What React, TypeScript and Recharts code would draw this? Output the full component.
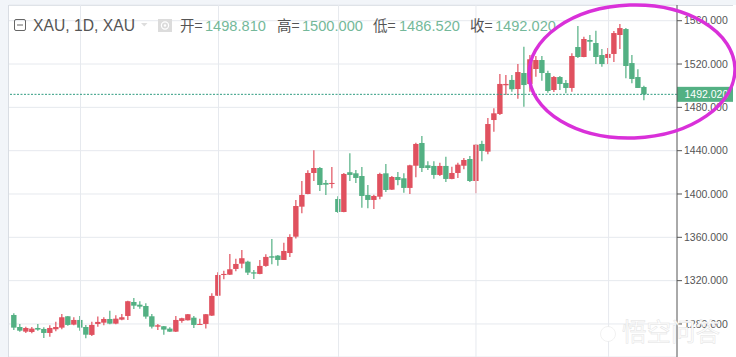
import { Bar, CartesianGrid, ComposedChart, ReferenceLine, XAxis, YAxis } from "recharts";

const opens = [
  1288.3, 1277.2, 1272.9, 1272.6, 1276.3, 1275.4, 1271.7, 1275.1, 1276.6, 1287.1,
  1279.4, 1283.7, 1277.2, 1269.9, 1280, 1281.2, 1284.6, 1280.3, 1284, 1287.4,
  1300.3, 1297.8, 1296.6, 1287.1, 1277.5, 1277.9, 1275.7, 1272.9, 1282.8, 1283.4,
  1285.8, 1279.4, 1280, 1287.7, 1306.1, 1325.2, 1325.5, 1330.8, 1335.7, 1337.5,
  1327.7, 1326.2, 1333.6, 1342.5, 1343.1, 1339.1, 1345.5, 1360.6, 1388.3, 1400,
  1419.4, 1424, 1410.2, 1409.5, 1395.4, 1383.4, 1420.1, 1419.1, 1416.6, 1399.1,
  1394.5, 1397.5, 1419.1, 1404, 1415.7, 1414.5, 1405.6, 1426.1, 1447.1, 1426.5,
  1425.9, 1417.6, 1425.9, 1413.9, 1419.4, 1426.1, 1432.3, 1412, 1446.2, 1439.1,
  1468.3, 1473.9, 1500.4, 1505.3, 1496.9, 1511.7, 1501.6, 1515.4, 1523.7, 1511.7,
  1496, 1508, 1502.5, 1497.9, 1535.7, 1526.5, 1542.2, 1539.4, 1528.3, 1525.6,
  1529.3, 1546.8, 1552.3, 1520.9, 1508, 1498.81,
];
const highs = [
  1289.9, 1280, 1277.5, 1277.2, 1280, 1277, 1278.8, 1282.1, 1289.2, 1287.4,
  1286.2, 1287.4, 1279.1, 1282.1, 1286.8, 1286.2, 1292.3, 1288, 1289.2, 1301.5,
  1304, 1301, 1299.1, 1289.2, 1280, 1278.2, 1277, 1287.4, 1285.8, 1289.2,
  1287.4, 1284.9, 1289.2, 1308.4, 1327.7, 1329.2, 1344.6, 1340.3, 1348.3, 1338.4,
  1329.9, 1339.1, 1344.4, 1358.5, 1343.7, 1355.1, 1362.8, 1394.5, 1412, 1421.9,
  1440.4, 1424.9, 1412.9, 1424.9, 1397.9, 1419.4, 1437.6, 1422.2, 1424.9, 1408.3,
  1399.4, 1419.7, 1427.7, 1416.6, 1420.3, 1419.1, 1427.1, 1447.4, 1453.6, 1430.2,
  1430.2, 1428.9, 1434.4, 1425.2, 1428.9, 1433.2, 1435.1, 1446.2, 1449.2, 1470.2,
  1479.1, 1510.8, 1509.9, 1509.9, 1520, 1536, 1528.3, 1527.4, 1527.4, 1513.8,
  1508.9, 1508.9, 1505.3, 1529.9, 1555.1, 1545.2, 1546.8, 1550.8, 1533.9, 1534.8,
  1550.5, 1556.9, 1553.2, 1528.3, 1515.1, 1500,
];
const lows = [
  1274.5, 1272.9, 1271.7, 1271.4, 1273.8, 1267.1, 1268.3, 1273.3, 1275.1, 1278.4,
  1278.8, 1273.8, 1266.8, 1268.9, 1277.5, 1278.8, 1279.7, 1279.7, 1283.4, 1283.7,
  1293.9, 1294.1, 1284.9, 1275.7, 1274.5, 1270.1, 1272.6, 1272.6, 1281.2, 1283.1,
  1276.3, 1279.1, 1275.7, 1287.4, 1305.9, 1321.3, 1325.2, 1328.7, 1331.4, 1325.2,
  1321.6, 1325.9, 1332.9, 1335.1, 1333.8, 1339.1, 1341.9, 1358.8, 1382.2, 1399.7,
  1412, 1402.8, 1399.1, 1405.3, 1382.5, 1383.1, 1412, 1410.2, 1387.4, 1386.8,
  1386.2, 1395.1, 1401.9, 1403.7, 1408.1, 1401.2, 1400, 1415.4, 1420.3, 1422.2,
  1414.1, 1416.6, 1411.1, 1413.6, 1414.8, 1422.8, 1411.1, 1400.7, 1430.2, 1436.7,
  1457.5, 1472.9, 1491.4, 1494.5, 1488, 1480.6, 1494.4, 1508.3, 1504.6, 1493.5,
  1494.2, 1496, 1493, 1494.5, 1525.5, 1526.2, 1532.3, 1520, 1517.5, 1520,
  1521.9, 1533.9, 1506.8, 1502.2, 1497.9, 1486.52,
];
const closes = [
  1276.6, 1273.8, 1276.3, 1275.7, 1274.8, 1271.7, 1276.3, 1277.2, 1286.2, 1279.1,
  1283.7, 1276.6, 1270.1, 1279.1, 1281.9, 1284.6, 1280.3, 1284.9, 1286.2, 1301,
  1296.9, 1296, 1286.8, 1277.5, 1278.8, 1274.8, 1272.9, 1283.7, 1285.3, 1289,
  1279.1, 1280, 1289, 1305.9, 1325.2, 1326.2, 1330.5, 1335.4, 1340.7, 1327.4,
  1326.5, 1333.6, 1341.9, 1341.2, 1339.1, 1347.4, 1360.3, 1388.9, 1399.1, 1419.4,
  1424, 1408.3, 1408.6, 1410.2, 1383.4, 1418.5, 1417.6, 1414.8, 1398.2, 1394.5,
  1398.2, 1418.5, 1403.7, 1415.7, 1412.9, 1405.6, 1426.5, 1446.2, 1424, 1424,
  1417.6, 1425.9, 1413.9, 1419.4, 1427.1, 1431.4, 1412, 1445.5, 1439.7, 1464.6,
  1474.5, 1501.6, 1501.6, 1496.7, 1512.6, 1500.6, 1524.4, 1523.7, 1511.7, 1495.1,
  1508, 1501.6, 1497.9, 1527.4, 1526.5, 1543.1, 1540.6, 1526.5, 1520, 1529.3,
  1548.6, 1553.2, 1518.2, 1506.2, 1497.9, 1492.02,
];
const priceTicks = [1280, 1320, 1360, 1400, 1440, 1480, 1520, 1560];
const timeGrid = [11.2, 34.2, 54.2, 77.1, 99.2];
const lastClose = 1492.02;

const headerItems = [
  { label: "开=", value: "1498.810", x: 180, vx: 205 },
  { label: "高=", value: "1500.000", x: 277, vx: 302 },
  { label: "低=", value: "1486.520", x: 373, vx: 399 },
  { label: "收=", value: "1492.020", x: 470, vx: 495 },
];

const RED = "#e0515f";
const GREEN = "#53b083";
const FONT = '"Liberation Sans", Arial, sans-serif';

const candles = opens.map((open, i) => ({
  i,
  open,
  high: highs[i],
  low: lows[i],
  close: closes[i],
}));

function Candle(props: any) {
  const { x, y, width, height, payload } = props;
  const { open, close, high, low } = payload;
  const color = close >= open ? RED : GREEN;
  const perUnit = height / (high - low);
  const top = y + (high - Math.max(open, close)) * perUnit;
  const bodyH = Math.max(Math.abs(open - close) * perUnit, 1);
  const cx = x + width / 2;
  return (
    <g>
      <line x1={cx} x2={cx} y1={y} y2={y + height} stroke={color} strokeWidth={1.2} />
      <rect x={cx - 2.7} y={top} width={5.4} height={bodyH} fill={color} />
    </g>
  );
}

function PriceTag(props: any) {
  const { viewBox } = props;
  const left = viewBox.x + viewBox.width;
  return (
    <g>
      <rect x={left} y={viewBox.y - 7.5} width={56} height={15} fill={GREEN} />
      <text x={left + 7.5} y={viewBox.y + 4} fill="#fff" fontSize={10.5} fontFamily={FONT}>
        {lastClose.toFixed(3)}
      </text>
    </g>
  );
}

export default function App() {
  return (
    <div style={{ position: "absolute", left: 0, top: 0, width: 736, height: 357, background: "#f2f5f9", overflow: "hidden" }}>
      <div
        style={{
          position: "absolute",
          left: 8,
          top: 5,
          width: 725,
          height: 352,
          background: "#fff",
          borderTop: "1px solid #d9dde3",
          borderLeft: "1px solid #d9dde3",
          boxSizing: "border-box",
        }}
      />
      <div style={{ position: "absolute", left: 733, top: 5, width: 3, height: 352, background: "#fff" }} />
      <ComposedChart
        width={736}
        height={357}
        data={candles}
        margin={{ top: 5, right: 0, bottom: 0, left: 9 }}
        style={{ position: "absolute", left: 0, top: 0 }}
      >
        <CartesianGrid vertical={false} stroke="#e6e9ee" strokeWidth={1} />
        <XAxis dataKey="i" type="number" domain={[-0.72, 110.6]} hide allowDataOverflow />
        <YAxis
          orientation="right"
          width={59}
          domain={[1249.5, 1574.5]}
          ticks={priceTicks}
          allowDataOverflow
          axisLine={{ stroke: "#555" }}
          tickLine={{ stroke: "#555" }}
          tickSize={5}
          tickMargin={2}
          tick={{ fill: "#555", fontSize: 10.5, fontFamily: FONT }}
          tickFormatter={(v: number) => v.toFixed(3)}
        />
        {timeGrid.map((t) => (
          <ReferenceLine key={t} x={t} stroke="#e6e9ee" />
        ))}
        <ReferenceLine
          y={lastClose}
          stroke="#2f9c80"
          strokeDasharray="2 1.5"
          label={(p: any) => <PriceTag {...p} />}
        />
        <Bar
          dataKey={(d: any) => [d.low, d.high]}
          barSize={5}
          isAnimationActive={false}
          shape={(p: any) => <Candle {...p} />}
        />
      </ComposedChart>

      {/* header, drawn over the chart like the platform's legend */}
      <svg width={736} height={357} style={{ position: "absolute", left: 0, top: 0, pointerEvents: "none" }}>
        <rect x={14.5} y={19.5} width={11} height={11} rx={1.5} fill="none" stroke="#666" />
        <line x1={17} x2={23} y1={25} y2={25} stroke="#666" />
        <text x={33} y={31} fontSize={15.7} fill="#555" fontFamily={FONT}>
          XAU, 1D, XAU
        </text>
        <path d="M141 23 h6.5 l-3.25 3.6 z" fill="#ddd" />
        <rect x={158} y={19} width={14} height={13} fill="#dcdcdc" />
        <circle cx={165} cy={25.5} r={3.6} fill="none" stroke="#fff" strokeWidth={1.2} />
        <circle cx={165} cy={25.5} r={1.2} fill="#fff" />
        {headerItems.map((h) => (
          <g key={h.label}>
            <text x={h.x} y={31} fontSize={14.5} fill="#555" fontFamily='"Noto Sans CJK SC", sans-serif'>
              {h.label}
            </text>
            <text x={h.vx} y={31} fontSize={14.6} fill="#74b89a" fontFamily={FONT}>
              {h.value}
            </text>
          </g>
        ))}

        {/* hand-drawn circle from the screenshot */}
        <ellipse
          cx={632}
          cy={71.5}
          rx={103}
          ry={66.5}
          transform="rotate(-2 632 71.5)"
          fill="none"
          stroke="#d930d9"
          strokeWidth={3.4}
        />

        {/* watermark */}
        <g stroke="#e2e2e2" strokeWidth={0.5} fill="#fff">
          <circle cx={608} cy={334} r={7.5} />
          <text x={622} y={341} fontSize={24.5} fontFamily='"Noto Sans CJK SC", sans-serif'>
            悟空问答
          </text>
        </g>
      </svg>
    </div>
  );
}
